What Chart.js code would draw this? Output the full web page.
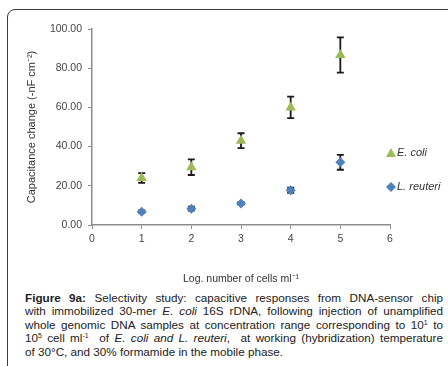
<!DOCTYPE html>
<html>
<head>
<meta charset="utf-8">
<script src="https://cdn.jsdelivr.net/npm/chart.js@4.4.0/dist/chart.umd.min.js"></script>
<style>
    body { margin: 0; background: #fff; width: 448px; height: 366px; overflow: hidden; position: relative; font-family: "Liberation Sans", Arial, sans-serif; }
    .frame { position: absolute; left: 7px; top: 9px; width: 460px; height: 380px; border: 1.5px solid #3a3a3a; border-radius: 8px 0 0 0; }
    .chart-box { position: absolute; left: 0; top: 0; width: 448px; height: 285px; }
    .caption { position: absolute; left: 25px; top: 291px; width: 418px; font-size: 11.7px; line-height: 13.4px; color: #222; }
    .caption div { text-align: justify; text-align-last: justify; white-space: nowrap; }
    .caption div.last { text-align-last: left; }
    sup { font-size: 7px; vertical-align: 4px; line-height: 0; }
</style>
</head>
<body>
<div class="frame"></div>
<div class="chart-box"><canvas id="selectivityChart" width="448" height="285"></canvas></div>
<div class="caption">
    <div><b>Figure 9a:</b> Selectivity study: capacitive responses from DNA-sensor chip</div>
    <div>with immobilized 30-mer <i>E. coli</i> 16S rDNA, following injection of unamplified</div>
    <div>whole genomic DNA samples at concentration range corresponding to 10<sup>1</sup> to</div>
    <div>10<sup>5</sup> cell ml<sup>-1</sup>&nbsp; of <i>E. coli and L. reuteri</i>,&nbsp; at working (hybridization) temperature</div>
    <div class="last">of 30°C, and 30% formamide in the mobile phase.</div>
</div>
<script>
// Data
const logCells = [1, 2, 3, 4, 5];
const ecoliValues = [24.0, 29.5, 43.0, 60.0, 86.7];
const ecoliErrors = [2.5, 4.0, 3.8, 5.5, 9.0];
const reuteriValues = [6.8, 8.3, 11.0, 17.7, 32.0];
const reuteriErrors = [0.6, 1.0, 0.6, 1.3, 3.8];
const yTicks = [0, 20, 40, 60, 80, 100];
const xTicks = [0, 1, 2, 3, 4, 5, 6];

const green = "#9bbb59";
const blue = "#4f81bd";
const axisGray = "#8c8c8c";

function toPoints(xs, ys) {
    return xs.map((x, i) => ({ x: x, y: ys[i] }));
}

// error bars drawn under the markers
const errorBars = {
    id: "errorBars",
    beforeDatasetsDraw(chart) {
        const ctx = chart.ctx;
        const xs = chart.scales.x, ys = chart.scales.y;
        chart.data.datasets.forEach((ds) => {
            ctx.save();
            ctx.strokeStyle = "#1a1a1a";
            ctx.lineWidth = 1.8;
            ds.data.forEach((p, i) => {
                const err = ds.errors[i];
                const px = xs.getPixelForValue(p.x);
                const top = ys.getPixelForValue(p.y + err);
                const bot = ys.getPixelForValue(p.y - err);
                ctx.beginPath();
                ctx.moveTo(px, top); ctx.lineTo(px, bot);
                ctx.moveTo(px - 3.5, top); ctx.lineTo(px + 3.5, top);
                ctx.moveTo(px - 3.5, bot); ctx.lineTo(px + 3.5, bot);
                ctx.stroke();
            });
            ctx.restore();
        });
    }
};

// legend to the right of the plot, like the original
const sideLegend = {
    id: "sideLegend",
    afterDraw(chart) {
        const ctx = chart.ctx;
        const area = chart.chartArea;
        const x = area.right + 1;
        const rows = [153, 187];
        chart.data.datasets.forEach((ds, i) => {
            const y = rows[i];
            ctx.save();
            ctx.fillStyle = ds.backgroundColor;
            ctx.beginPath();
            if (ds.pointStyle === "triangle") {
                ctx.moveTo(x, y - 5); ctx.lineTo(x + 5, y + 4); ctx.lineTo(x - 5, y + 4);
            } else {
                ctx.moveTo(x, y - 5); ctx.lineTo(x + 5, y); ctx.lineTo(x, y + 5); ctx.lineTo(x - 5, y);
            }
            ctx.closePath();
            ctx.fill();
            ctx.fillStyle = "#333";
            ctx.font = "italic 11px 'Liberation Sans', Arial, sans-serif";
            ctx.textBaseline = "middle";
            ctx.fillText(ds.label, x + 6, y);
            ctx.restore();
        });
    }
};

const ctx = document.getElementById("selectivityChart").getContext("2d");
new Chart(ctx, {
    type: "scatter",
    data: {
        datasets: [
            {
                label: "E. coli",
                data: toPoints(logCells, ecoliValues),
                errors: ecoliErrors,
                backgroundColor: green,
                borderColor: green,
                pointStyle: "triangle",
                pointRadius: 6,
                pointBorderWidth: 0,
            },
            {
                label: "L. reuteri",
                data: toPoints(logCells, reuteriValues),
                errors: reuteriErrors,
                backgroundColor: blue,
                borderColor: blue,
                pointStyle: "rectRot",
                pointRadius: 5,
                pointBorderWidth: 0,
            },
        ],
    },
    options: {
        responsive: false,
        animation: false,
        layout: { padding: { left: 0, right: 58, top: 29, bottom: 0 } },
        plugins: { legend: { display: false }, tooltip: { enabled: false } },
        scales: {
            x: {
                type: "linear",
                min: 0,
                max: 6,
                afterBuildTicks: (scale) => { scale.ticks = xTicks.map((v) => ({ value: v })); },
                afterFit: (scale) => { scale.height = 60; },
                ticks: { color: "#444", font: { family: "'Liberation Sans', Arial", size: 10.5 }, padding: 4 },
                grid: { drawOnChartArea: false, drawTicks: true, tickLength: 4, color: axisGray },
                border: { color: axisGray, width: 1.5 },
                title: {
                    display: true,
                    text: "Log. number of cells ml\u207B\u00B9",
                    color: "#333",
                    font: { family: "'Liberation Sans', Arial", size: 10.5 },
                    padding: { top: 9, bottom: 0 },
                },
            },
            y: {
                type: "linear",
                min: 0,
                max: 100,
                afterBuildTicks: (scale) => { scale.ticks = yTicks.map((v) => ({ value: v })); },
                afterFit: (scale) => { scale.width = 92; },
                ticks: {
                    color: "#444",
                    font: { family: "'Liberation Sans', Arial", size: 10.5 },
                    padding: 6,
                    callback: (v) => v.toFixed(2),
                },
                grid: { drawOnChartArea: false, drawTicks: true, tickLength: 4, color: axisGray },
                border: { color: axisGray, width: 1.5 },
                title: {
                    display: true,
                    text: "Capacitance change (-nF cm\u207B\u00B2)",
                    color: "#333",
                    font: { family: "'Liberation Sans', Arial", size: 11 },
                    padding: { top: 25, bottom: 0 },
                },
            },
        },
    },
    plugins: [errorBars, sideLegend],
});
</script>
</body>
</html>
